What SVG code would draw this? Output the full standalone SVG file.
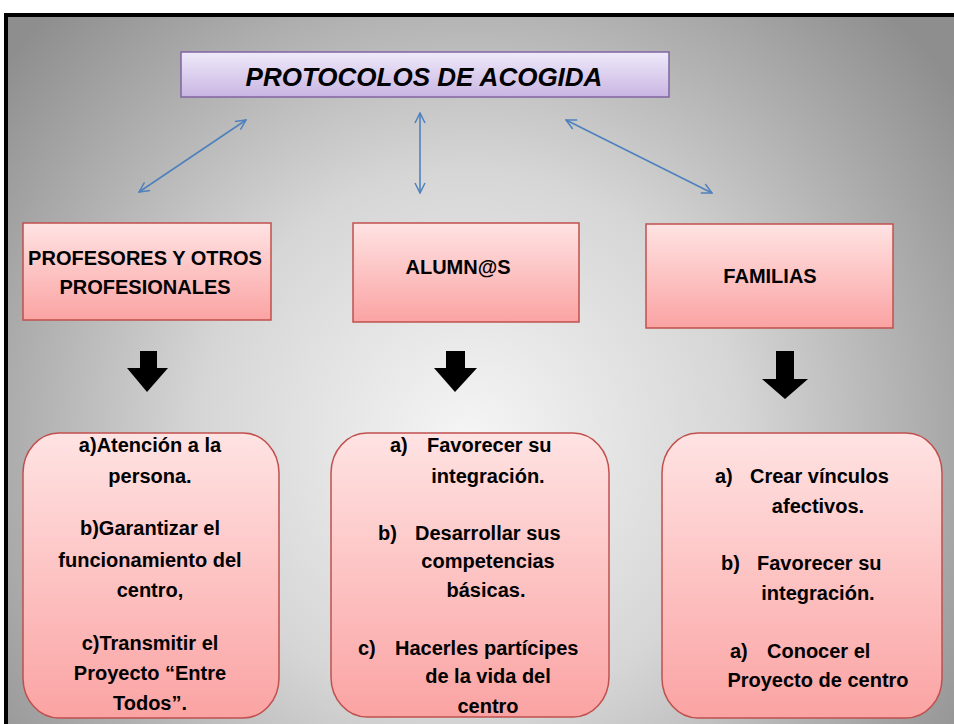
<svg xmlns="http://www.w3.org/2000/svg" width="954" height="724" viewBox="0 0 954 724">
<defs>
<radialGradient id="bg" gradientUnits="userSpaceOnUse" cx="470" cy="440" r="600">
<stop offset="0" stop-color="#f5f5f5"/>
<stop offset="0.45" stop-color="#d6d6d6"/>
<stop offset="1" stop-color="#8e8e8e"/>
</radialGradient>
<linearGradient id="pur" x1="0" y1="0" x2="0" y2="1">
<stop offset="0" stop-color="#efeafa"/>
<stop offset="1" stop-color="#c9b5e2"/>
</linearGradient>
<linearGradient id="pink" x1="0" y1="0" x2="0" y2="1">
<stop offset="0" stop-color="#ffe3e3"/>
<stop offset="1" stop-color="#fba3a3"/>
</linearGradient>
<marker id="ah" viewBox="0 0 12 12" refX="11" refY="6" markerWidth="12" markerHeight="12" markerUnits="userSpaceOnUse" orient="auto-start-reverse">
<path d="M1,1 L11,6 L1,11" fill="none" stroke="#4f81bd" stroke-width="1.5"/>
</marker>
<style>
.conn{stroke:#4f81bd;stroke-width:1.6;fill:none;marker-start:url(#ah);marker-end:url(#ah)}
.blk{fill:#000}
.hdr{fill:url(#pink);stroke:#c0504d;stroke-width:1.5}
.det{fill:url(#pink);stroke:#c0504d;stroke-width:1.5}
.t{font-family:"Liberation Sans",Arial,sans-serif;font-weight:bold;fill:#000}
.h{font-size:20px;text-anchor:middle}
.b{font-size:20px}
.c{text-anchor:middle}
</style>
</defs>
<rect x="0" y="0" width="954" height="724" fill="#fff"/>
<rect x="6" y="15" width="960" height="720" fill="url(#bg)" stroke="#000" stroke-width="4"/>

<g id="title">
<rect x="181" y="52" width="488" height="45" fill="url(#pur)" stroke="#8064a2" stroke-width="1.5"/>
<text class="t" x="424" y="86" font-size="26" font-style="italic" text-anchor="middle">PROTOCOLOS DE ACOGIDA</text>
</g>

<g id="connectors">
<line class="conn" x1="139" y1="192" x2="246" y2="120"/>
<line class="conn" x1="420" y1="113" x2="420" y2="193"/>
<line class="conn" x1="566" y1="120" x2="712" y2="193"/>
<path class="blk" d="M140,351 H157 V368 H168 L147,392 L127,368 H140 Z"/>
<path class="blk" d="M446,351 H465 V368 H477 L455,392 L434,368 H446 Z"/>
<path class="blk" d="M776,351 H794 V379 H808 L785,399 L762,379 H776 Z"/>
</g>

<g id="profesores">
<rect class="hdr" x="23" y="223" width="248" height="97"/>
<text class="t h" x="145" y="265" font-size="19">PROFESORES Y OTROS</text>
<text class="t h" x="145" y="294" font-size="19">PROFESIONALES</text>
</g>
<g id="alumnos">
<rect class="hdr" x="353" y="223" width="226" height="99"/>
<text class="t h" x="458" y="274">ALUMN@S</text>
</g>
<g id="familias">
<rect class="hdr" x="646" y="224" width="247" height="104"/>
<text class="t h" x="770" y="283">FAMILIAS</text>
</g>

<g id="det-profesores">
<rect class="det" x="23" y="433" width="256" height="285" rx="36" ry="40"/>
<text class="t b c" x="150" y="452">a)Atención a la</text>
<text class="t b c" x="150" y="483">persona.</text>
<text class="t b c" x="150" y="535">b)Garantizar el</text>
<text class="t b c" x="150" y="567">funcionamiento del</text>
<text class="t b c" x="150" y="597">centro,</text>
<text class="t b c" x="150" y="650">c)Transmitir el</text>
<text class="t b c" x="150" y="680">Proyecto “Entre</text>
<text class="t b c" x="150" y="710">Todos”.</text>
</g>

<g id="det-alumnos">
<rect class="det" x="331" y="433" width="278" height="284" rx="36" ry="40"/>
<text class="t b" x="390" y="452">a)</text>
<text class="t b" x="427" y="452">Favorecer su</text>
<text class="t b c" x="488" y="483">integración.</text>
<text class="t b" x="378" y="540">b)</text>
<text class="t b" x="415" y="540">Desarrollar sus</text>
<text class="t b c" x="488" y="568">competencias</text>
<text class="t b c" x="486" y="597">básicas.</text>
<text class="t b" x="358" y="655">c)</text>
<text class="t b" x="395" y="655">Hacerles partícipes</text>
<text class="t b c" x="488" y="683">de la vida del</text>
<text class="t b c" x="488" y="713">centro</text>
</g>

<g id="det-familias">
<rect class="det" x="662" y="433" width="280" height="285" rx="36" ry="40"/>
<text class="t b" x="715" y="483">a)</text>
<text class="t b" x="750" y="483">Crear vínculos</text>
<text class="t b c" x="818" y="513">afectivos.</text>
<text class="t b" x="721" y="570">b)</text>
<text class="t b" x="757" y="570">Favorecer su</text>
<text class="t b c" x="818" y="600">integración.</text>
<text class="t b" x="730" y="658">a)</text>
<text class="t b" x="767" y="658">Conocer  el</text>
<text class="t b c" x="818" y="687">Proyecto de centro</text>
</g>
</svg>
